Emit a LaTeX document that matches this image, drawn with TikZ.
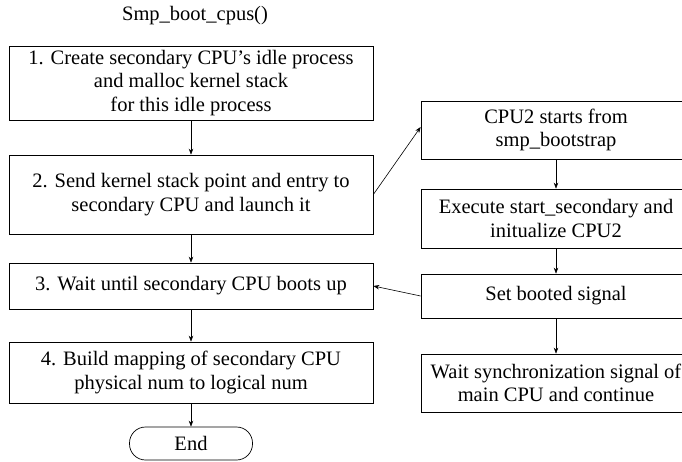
\documentclass[tikz,border=0pt]{standalone}
\usepackage{fontspec}
\setmainfont{Liberation Serif}
\usetikzlibrary{arrows.meta}
\begin{document}
\begin{tikzpicture}[x=1pt,y=-1pt,
  txt/.style={font=\fontsize{20.5}{23.5}\selectfont},
  box/.style={txt, draw, line width=0.7pt, align=center, inner sep=0pt},
  leftbox/.style={box, minimum width=364pt},
  rightbox/.style={box, minimum width=270pt},
  flow/.style={line width=0.6pt, -{Stealth[length=6pt,width=4.5pt]}}]
\useasboundingbox (0,0) rectangle (682,462);
\clip (0,0) rectangle (682,462);

% main CPU column
\node[txt] (title) at (195,16) {Smp\_boot\_cpus()};
\node[leftbox, minimum height=74pt] (s1) at (191,83)
  {1. Create secondary CPU’s idle process\\and malloc kernel stack\\for this idle process};
\node[leftbox, minimum height=79pt] (s2) at (191,194.5)
  {2. Send kernel stack point and entry to\\secondary CPU and launch it};
\node[leftbox, minimum height=46pt] (s3) at (191,286)
  {3. Wait until secondary CPU boots up};
\node[leftbox, minimum height=61pt] (s4) at (191,372.5)
  {4. Build mapping of secondary CPU\\physical num to logical num};
\node[txt, draw, line width=0.7pt, minimum width=123pt, minimum height=33pt,
  inner sep=0pt, rounded corners=16pt] (end) at (191,443.5) {End};

% secondary CPU column
\node[rightbox, minimum height=58pt] (c1) at (556,130)
  {CPU2 starts from\\smp\_bootstrap};
\node[rightbox, minimum height=59pt] (c2) at (556,218.5)
  {Execute start\_secondary and\\initualize CPU2};
\node[rightbox, minimum height=44pt] (c3) at (556,296)
  {Set booted signal};
\node[rightbox, minimum height=58pt] (c4) at (556,383)
  {Wait synchronization signal of\\main CPU and continue};

% connectors
\draw[flow] (s1) -- (s2);
\draw[flow] (s2) -- (s3);
\draw[flow] (s3) -- (s4);
\draw[flow] (s4) -- (end);
\draw[flow] (c1) -- (c2);
\draw[flow] (c2) -- (c3);
\draw[flow] (c3) -- (c4);
\draw[flow] (s2.east) -- ([yshift=3pt]c1.west);
\draw[flow] (c3.west) -- (s3.east);
\end{tikzpicture}
\end{document}
